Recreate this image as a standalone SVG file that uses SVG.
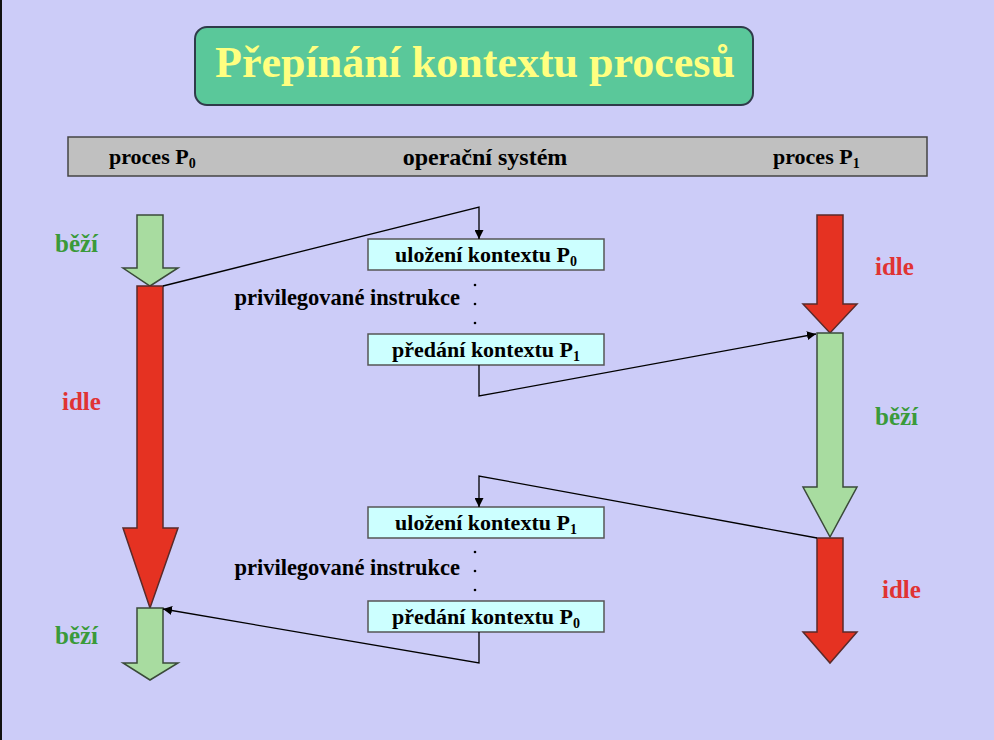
<svg xmlns="http://www.w3.org/2000/svg" width="994" height="740" viewBox="0 0 994 740" font-family="Liberation Serif, Times New Roman, serif" font-weight="bold">
  <defs>
    <marker id="arr" viewBox="0 0 10 10" refX="10" refY="5" markerWidth="9" markerHeight="9" markerUnits="userSpaceOnUse" orient="auto">
      <path d="M0,0 L10,5 L0,10 z" fill="#000"/>
    </marker>
    <style>
      .hdr { font-size: 22px; fill: #000; }
      .hdr-os { font-size: 24px; fill: #000; text-anchor: middle; }
      .box { fill: #ccffff; stroke: #555; stroke-width: 1.5; }
      .btxt { font-size: 22px; fill: #000; text-anchor: middle; }
      .sub { font-size: 14px; }
      .run { fill: #a8dca0; stroke: #3a4a3a; stroke-width: 1.5; }
      .idle { fill: #e53222; stroke: #5a2a2a; stroke-width: 1.5; }
      .lrun { font-size: 25px; fill: #3a9a3a; }
      .lidle { font-size: 25px; fill: #e03333; }
      .priv { font-size: 22.5px; fill: #000; text-anchor: end; }
      .dot { fill: #000; }
      .conn { fill: none; stroke: #000; stroke-width: 1.3; }
    </style>
  </defs>

  <!-- background -->
  <rect x="0" y="0" width="994" height="740" fill="#ccccf8"/>
  <rect x="0" y="0" width="2" height="740" fill="#111"/>

  <!-- title -->
  <g id="title">
    <rect x="195" y="27" width="558" height="78" rx="12" fill="#5ac89a" stroke="#2f3b4a" stroke-width="2"/>
    <text x="475" y="77" text-anchor="middle" font-size="44" fill="#ffff80">Přepínání kontextu procesů</text>
  </g>

  <!-- header bar -->
  <g id="header">
    <rect x="68" y="137" width="859" height="39" fill="#c0c0c0" stroke="#444" stroke-width="1.5"/>
    <text class="hdr" x="109" y="164">proces P<tspan class="sub" dy="4">0</tspan></text>
    <text class="hdr-os" x="485" y="165">operační systém</text>
    <text class="hdr" x="773" y="164">proces P<tspan class="sub" dy="4">1</tspan></text>
  </g>

  <!-- process P0 timeline -->
  <g id="p0-run1">
    <path class="run" d="M137,215 H163 V268 H178 L150,286 L123,268 H137 Z"/>
    <text class="lrun" x="55" y="252">běží</text>
  </g>
  <g id="p0-idle">
    <path class="idle" d="M137,286 H163 V528 H178 L150,608 L123,528 H137 Z"/>
    <text class="lidle" x="62" y="410">idle</text>
  </g>
  <g id="p0-run2">
    <path class="run" d="M137,608 H163 V663 H178 L150,680 L123,663 H137 Z"/>
    <text class="lrun" x="55" y="644">běží</text>
  </g>

  <!-- process P1 timeline -->
  <g id="p1-idle1">
    <path class="idle" d="M817,215 H843 V304 H857 L830,333 L803,304 H817 Z"/>
    <text class="lidle" x="875" y="275">idle</text>
  </g>
  <g id="p1-run">
    <path class="run" d="M817,333 H843 V487 H857 L830,537 L803,487 H817 Z"/>
    <text class="lrun" x="875" y="425">běží</text>
  </g>
  <g id="p1-idle2">
    <path class="idle" d="M817,538 H843 V632 H857 L830,663 L803,632 H817 Z"/>
    <text class="lidle" x="882" y="598">idle</text>
  </g>

  <!-- operating system steps -->
  <g id="save-p0">
    <rect class="box" x="368" y="239" width="236" height="31"/>
    <text class="btxt" x="486" y="262">uložení kontextu P<tspan class="sub" dy="4">0</tspan></text>
  </g>
  <g id="priv-1">
    <text class="priv" x="460" y="305">privilegované instrukce</text>
    <circle class="dot" cx="475" cy="285" r="1.3"/>
    <circle class="dot" cx="475" cy="304" r="1.3"/>
    <circle class="dot" cx="475" cy="323" r="1.3"/>
  </g>
  <g id="pass-p1">
    <rect class="box" x="368" y="334" width="236" height="31"/>
    <text class="btxt" x="486" y="357">předání kontextu P<tspan class="sub" dy="4">1</tspan></text>
  </g>
  <g id="save-p1">
    <rect class="box" x="368" y="507" width="236" height="31"/>
    <text class="btxt" x="486" y="530">uložení kontextu P<tspan class="sub" dy="4">1</tspan></text>
  </g>
  <g id="priv-2">
    <text class="priv" x="460" y="575">privilegované instrukce</text>
    <circle class="dot" cx="475" cy="552" r="1.3"/>
    <circle class="dot" cx="475" cy="571" r="1.3"/>
    <circle class="dot" cx="475" cy="590" r="1.3"/>
  </g>
  <g id="pass-p0">
    <rect class="box" x="368" y="601" width="236" height="31"/>
    <text class="btxt" x="486" y="624">předání kontextu P<tspan class="sub" dy="4">0</tspan></text>
  </g>

  <!-- connectors -->
  <g id="connectors">
    <polyline class="conn" points="163,286 479,207 479,239" marker-end="url(#arr)"/>
    <polyline class="conn" points="479,365 479,396 816,334" marker-end="url(#arr)"/>
    <polyline class="conn" points="817,538 479,476 479,507" marker-end="url(#arr)"/>
    <polyline class="conn" points="479,632 479,663 163,609" marker-end="url(#arr)"/>
  </g>
</svg>
